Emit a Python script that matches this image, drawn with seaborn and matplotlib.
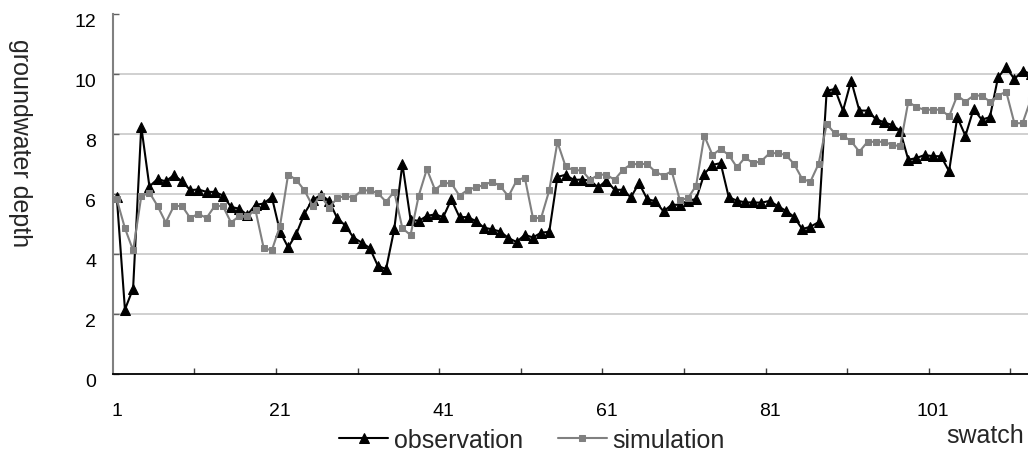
import numpy as np
import pandas as pd
import matplotlib
matplotlib.use("Agg")
import matplotlib.pyplot as plt
import matplotlib.transforms as mtransforms
import seaborn as sns

# ---- data ----
observation = [
    5.90, 2.15, 2.85, 8.25, 6.25, 6.50, 6.42, 6.63, 6.42, 6.13,
    6.15, 6.07, 6.07, 5.95, 5.57, 5.51, 5.30, 5.64, 5.68, 5.90,
    4.75, 4.22, 4.67, 5.35, 5.80, 5.97, 5.78, 5.20, 4.95, 4.55,
    4.38, 4.20, 3.60, 3.50, 4.82, 7.00, 5.15, 5.10, 5.27, 5.32,
    5.23, 5.82, 5.23, 5.23, 5.10, 4.88, 4.82, 4.75, 4.53, 4.40,
    4.64, 4.55, 4.71, 4.74, 6.57, 6.64, 6.47, 6.48, 6.45, 6.22,
    6.45, 6.14, 6.14, 5.89, 6.36, 5.83, 5.76, 5.42, 5.64, 5.64,
    5.78, 5.83, 6.67, 6.97, 7.03, 5.89, 5.78, 5.72, 5.72, 5.71,
    5.77, 5.60, 5.44, 5.24, 4.83, 4.91, 5.06, 9.44, 9.50, 8.78,
    9.78, 8.78, 8.78, 8.50, 8.39, 8.30, 8.11, 7.14, 7.20, 7.30,
    7.26, 7.26, 6.76, 8.56, 7.94, 8.83, 8.48, 8.56, 9.89, 10.22,
    9.83, 10.11, 10.00,
]
simulation = [
    5.82, 4.86, 4.12, 5.92, 6.05, 5.60, 5.05, 5.60, 5.60, 5.20,
    5.34, 5.20, 5.60, 5.60, 5.05, 5.26, 5.26, 5.46, 4.20, 4.12,
    4.93, 6.65, 6.47, 6.12, 5.60, 5.95, 5.54, 5.86, 5.94, 5.88,
    6.12, 6.12, 6.03, 5.74, 6.08, 4.86, 4.63, 5.94, 6.83, 6.14,
    6.36, 6.36, 5.94, 6.14, 6.22, 6.30, 6.41, 6.26, 5.92, 6.45,
    6.55, 5.20, 5.20, 6.12, 7.73, 6.92, 6.79, 6.79, 6.47, 6.64,
    6.65, 6.47, 6.80, 6.99, 7.00, 7.00, 6.74, 6.61, 6.76, 5.80,
    5.86, 6.28, 7.94, 7.30, 7.50, 7.30, 6.89, 7.22, 7.02, 7.10,
    7.36, 7.36, 7.30, 7.00, 6.50, 6.41, 7.00, 8.33, 8.02, 7.94,
    7.76, 7.41, 7.74, 7.74, 7.74, 7.64, 7.59, 9.08, 8.89, 8.81,
    8.81, 8.81, 8.59, 9.28, 9.08, 9.28, 9.28, 9.08, 9.28, 9.41,
    8.36, 8.36, 9.14,
]
swatch = list(range(1, len(observation) + 1))
x_labels = [1, 21, 41, 61, 81, 101]
y_ticks = [0, 2, 4, 6, 8, 10, 12]

df = pd.DataFrame({"swatch": swatch, "observation": observation,
                   "simulation": simulation})

sns.set_theme(style="white")
plt.rcParams["font.family"] = ["Liberation Sans", "DejaVu Sans"]

W, H = 1028, 456
fig = plt.figure(figsize=(W / 100, H / 100), dpi=100)
left_px, right_px, top_px, bottom_px = 112.7, 1028, 15, 375
ax = fig.add_axes([left_px / W, 1 - bottom_px / H,
                   (right_px - left_px) / W, (bottom_px - top_px) / H])
ax.set_facecolor("white")

sns.lineplot(data=df, x="swatch", y="observation", ax=ax, color="black",
             marker="^", markersize=6.5, markeredgecolor="black",
             markerfacecolor="black", linewidth=1.5, label="observation")
sns.lineplot(data=df, x="swatch", y="simulation", ax=ax, color="#808080",
             marker="s", markersize=5, markeredgecolor="#808080",
             markerfacecolor="#808080", linewidth=1.5, label="simulation")

step = 8.16
ax.set_xlim(0.5, 0.5 + (right_px - left_px) / step)
ax.set_ylim(0, 12)

# y axis
ax.set_yticks(y_ticks)
ax.set_yticklabels([str(v) for v in y_ticks])
ax.tick_params(axis="y", direction="in", length=4.5, width=1.0,
               color="#606060", pad=12, labelsize=14, left=True,
               labelcolor="black")
off = mtransforms.ScaledTranslation(0, -6 / 100, fig.dpi_scale_trans)
for lab in ax.get_yticklabels():
    lab.set_transform(lab.get_transform() + off)

# x axis: tick marks between categories, labels at categories
ax.set_xticks(np.arange(10.5, 112, 10))
ax.set_xticklabels([])
ax.set_xticks(x_labels, minor=True)
ax.set_xticklabels([str(v) for v in x_labels], minor=True)
ax.tick_params(axis="x", which="major", direction="in", length=4.5,
               width=1.0, color="#404040", bottom=True)
ax.tick_params(axis="x", which="minor", length=0, pad=20, labelsize=14,
               bottom=True, labelcolor="black")

ax.grid(axis="y", color="#c8c8c8", linewidth=1.2)
ax.grid(axis="x", visible=False)
ax.yaxis.get_gridlines()[-1].set_visible(False)
ax.yaxis.get_gridlines()[0].set_visible(False)

for s in ["top", "right"]:
    ax.spines[s].set_visible(False)
ax.spines["left"].set_color("#808080")
ax.spines["left"].set_linewidth(1.5)
ax.spines["bottom"].set_color("black")
ax.spines["bottom"].set_linewidth(1.3)
ax.set_xlabel("")
ax.set_ylabel("")

ax.legend(ncol=2, frameon=False, loc="center",
          bbox_to_anchor=(532 / W, 15 / H), bbox_transform=fig.transFigure,
          fontsize=18, handlelength=1.96, handletextpad=0.23,
          columnspacing=1.4, borderpad=0, borderaxespad=0)

fig.text(1024 / W, 1 - 436 / H, "swatch", ha="right", va="center",
         fontsize=18)
fig.text(20 / W, 1 - 143 / H, "groundwater depth", rotation=270,
         ha="center", va="center", fontsize=18)

fig.savefig("out.png", dpi=100, facecolor="white")
